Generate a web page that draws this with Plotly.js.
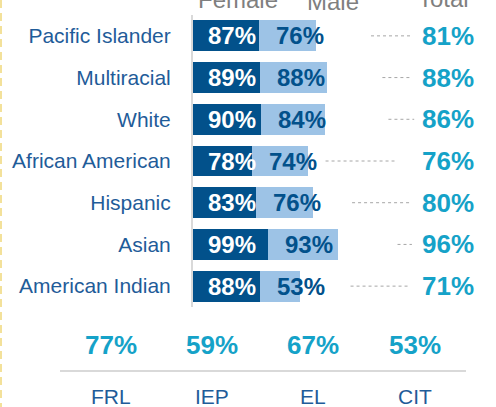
<!DOCTYPE html>
<html>
<head>
<meta charset="utf-8">
<script src="https://cdn.plot.ly/plotly-3.0.1.min.js"></script>
<style>html,body{margin:0;padding:0;background:#fff;}#chart{width:496px;height:407px;}</style>
</head>
<body>
<div id="chart"></div>
<script>
// ---- data ----
const groups = ['Pacific Islander','Multiracial','White','African American','Hispanic','Asian','American Indian'];
const female = [87, 89, 90, 78, 83, 99, 88];
const male   = [76, 88, 84, 74, 76, 93, 53];
const total  = [81, 88, 86, 76, 80, 96, 71];
const leaderStart = [235, 250, 258, 175, 210, 270, 208];
const leaderEnd   = [287, 287, 292, 266, 288, 289, 286];
const subgroupLabels = ['FRL', 'IEP', 'EL', 'CIT'];
const subgroupValues = [77, 59, 67, 53];
const headers = ['Female', 'Male', 'Total'];

// ---- layout helpers ----
const W = 496, H = 407;
const M = {l: 193, r: 0, t: 15, b: 100};
const PW = W - M.l - M.r, PH = H - M.t - M.b;
const px2x = px => (px - M.l) / PW;
const px2y = py => (M.t + PH - py) / PH;

const FONT = 'Liberation Sans, Arial, sans-serif';
const DARK = '#02518b';
const LIGHT = '#9dc3e6';
const LABEL = '#1f5c99';
const TEAL = '#15a2c8';
const GRAY = '#7f7f7f';

const traces = [
  {type: 'bar', orientation: 'h', y: groups, x: female, marker: {color: DARK}, hoverinfo: 'skip', showlegend: false},
  {type: 'bar', orientation: 'h', y: groups, x: male, marker: {color: LIGHT}, hoverinfo: 'skip', showlegend: false}
];
groups.forEach((g, i) => {
  traces.push({type: 'scatter', mode: 'lines', x: [leaderStart[i], leaderEnd[i]], y: [g, g],
    line: {color: '#a6a6a6', width: 1, dash: 'dot'}, hoverinfo: 'skip', showlegend: false});
});

const ann = [];
groups.forEach((g, i) => {
  ann.push({x: 0, y: g, xref: 'x', yref: 'y', text: female[i] + '%', showarrow: false,
    xanchor: 'left', xshift: 13, font: {family: FONT, size: 24, color: '#ffffff', weight: 'bold'}});
  ann.push({x: female[i], y: g, xref: 'x', yref: 'y', text: male[i] + '%', showarrow: false,
    xanchor: 'left', xshift: 15, font: {family: FONT, size: 24, color: DARK, weight: 'bold'}});
  ann.push({x: px2x(448), y: g, xref: 'paper', yref: 'y', text: total[i] + '%', showarrow: false,
    xanchor: 'center', font: {family: FONT, size: 26, color: TEAL, weight: 'bold'}});
});
const headerX = [238, 333, 443];
const headerY = [-1, 1, -2];
headers.forEach((h, i) => {
  ann.push({x: px2x(headerX[i]), y: px2y(headerY[i]), xref: 'paper', yref: 'paper', text: h, showarrow: false,
    xanchor: 'center', yanchor: 'middle', font: {family: FONT, size: 24, color: GRAY}});
});
const subX = [111, 212, 313, 415];
subgroupLabels.forEach((s, i) => {
  ann.push({x: px2x(subX[i]), y: px2y(345), xref: 'paper', yref: 'paper', text: subgroupValues[i] + '%', showarrow: false,
    xanchor: 'center', yanchor: 'middle', font: {family: FONT, size: 26, color: TEAL, weight: 'bold'}});
  ann.push({x: px2x(subX[i]), y: px2y(396), xref: 'paper', yref: 'paper', text: s, showarrow: false,
    xanchor: 'center', yanchor: 'middle', font: {family: FONT, size: 21, color: LABEL}});
});

const shapes = [
  {type: 'line', xref: 'paper', yref: 'paper', x0: px2x(60), x1: px2x(466), y0: px2y(371), y1: px2y(371),
    line: {color: '#d9d9d9', width: 2}},
  {type: 'line', xref: 'paper', yref: 'paper', x0: px2x(1), x1: px2x(1), y0: px2y(0), y1: px2y(407),
    line: {color: '#f3e19a', width: 2, dash: '8px,5px'}}
];

const layout = {
  width: W, height: H,
  margin: M,
  paper_bgcolor: '#ffffff', plot_bgcolor: '#ffffff',
  barmode: 'stack', bargap: 0.26,
  showlegend: false,
  font: {family: FONT},
  xaxis: {range: [0, 400], showgrid: false, zeroline: false, showticklabels: false, showline: false, fixedrange: true},
  yaxis: {type: 'category', autorange: 'reversed', showgrid: false, zeroline: false,
    showline: true, linecolor: '#d9d9d9', linewidth: 2,
    ticks: '', ticklabelstandoff: 16,
    tickfont: {family: FONT, size: 21, color: LABEL}},
  annotations: ann,
  shapes: shapes
};

Plotly.newPlot('chart', traces, layout, {displayModeBar: false, staticPlot: true});
</script>
</body>
</html>
